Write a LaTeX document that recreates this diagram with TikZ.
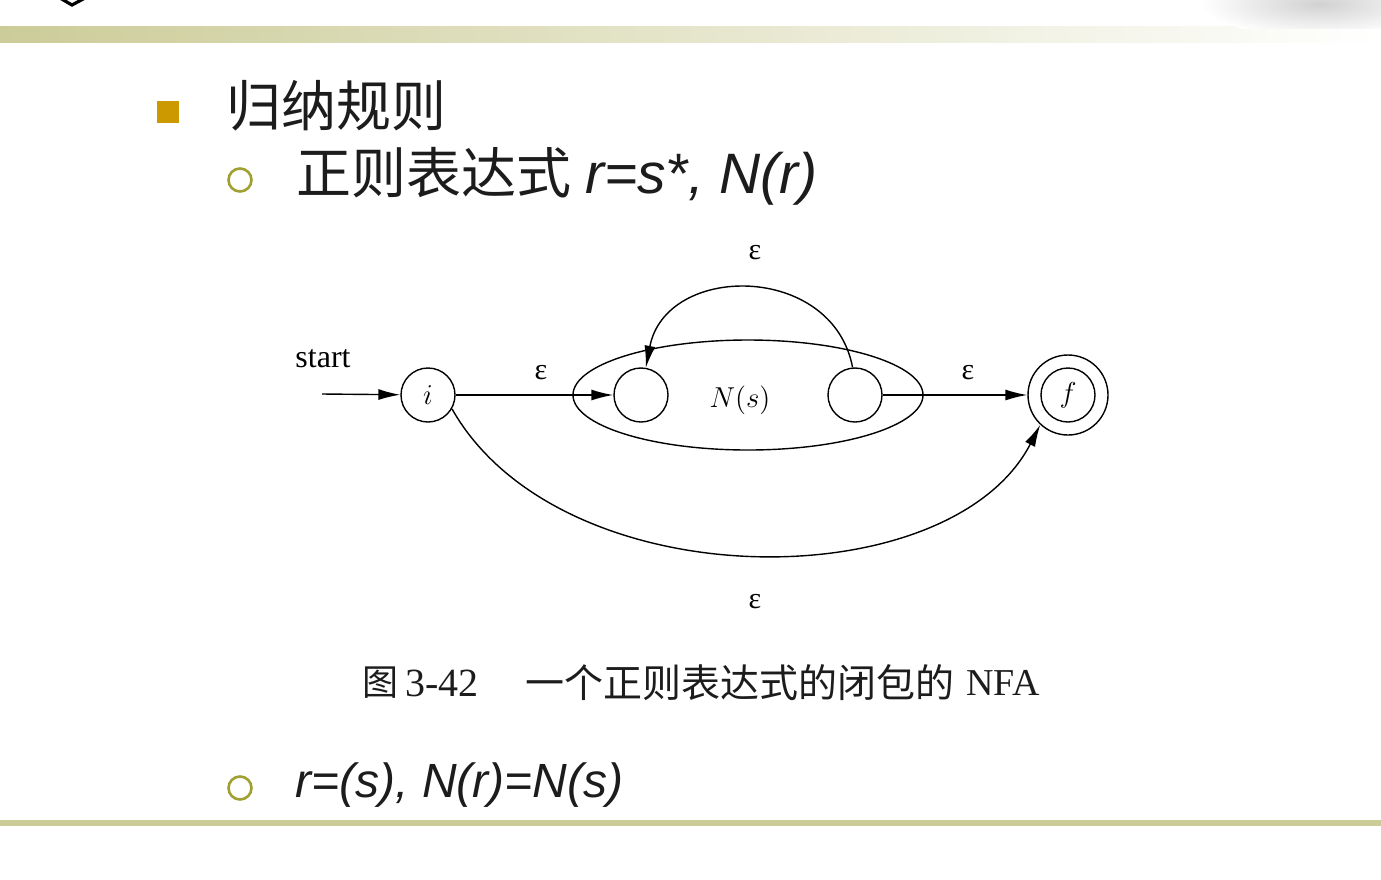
\documentclass[tikz,border=0pt]{standalone}
\usepackage{fontspec}
\setmainfont{Liberation Serif}
\newfontfamily\cjk{Noto Sans CJK SC}
\newfontfamily\arialf{Liberation Sans}
\usetikzlibrary{arrows.meta,shapes.geometric}
\definecolor{olv}{RGB}{204,204,153}
\definecolor{goldb}{RGB}{204,153,0}
\definecolor{bul}{RGB}{160,160,50}
\definecolor{ink}{RGB}{28,28,28}
\tikzset{
  st/.style={circle, draw, line width=0.7pt, minimum size=27pt, inner sep=0pt, font=\fontsize{14}{16}\selectfont},
  arr/.style={line width=0.7pt, -{Latex[length=11pt,width=5.5pt]}},
  lbl/.style={font=\fontsize{15}{17}\selectfont, inner sep=0pt},
  bulc/.style={circle, draw=bul, line width=1.3pt, minimum size=11.5pt, inner sep=0pt},
}
\begin{document}
\begin{tikzpicture}[x=0.5pt,y=-0.5pt]
\useasboundingbox (0,0) rectangle (1381,879);
% top decorations
\shade[left color=olv, right color=white] (0,26) rectangle (1381,42);
\begin{scope}
\clip (1150,0) rectangle (1381,28);
\shade[inner color=black!18, outer color=white] (1320,4) ellipse [x radius=120, y radius=32];
\end{scope}
\draw[line width=1.6pt] (60,-2) -- (72,5) -- (85,-2);
% bottom line
\fill[olv] (0,820) rectangle (1381,826);
% bullets and text
\fill[goldb] (157,101) rectangle (179,123);
\node[anchor=west, inner sep=0pt, text=ink, font=\cjk\fontsize{27.5}{30}\selectfont] (t1) at (226,106) {归纳规则};
\node[bulc] (b1) at (240,180) {};
\node[anchor=west, inner sep=0pt, text=ink, font=\fontsize{27.5}{30}\selectfont] (t2) at (296,176) {{\cjk 正则表达式} {\arialf\itshape\fontsize{28.5}{30}\selectfont r=s*, N(r)}};
\node[bulc] (b2) at (240,788) {};
\node[anchor=west, inner sep=0pt, text=ink, font=\arialf\itshape\fontsize{24}{28}\selectfont] (t3) at (295,785) {r=(s), N(r)=N(s)};
% diagram
\node[draw, ellipse, line width=0.7pt, minimum width=175pt, minimum height=55pt, inner sep=0pt] (Ns) at (748,395) {};
\node[inner sep=0pt, font=\fontsize{14}{16}\selectfont] (Nlab) at (740,400) {$N(s)$};
\node[st] (i) at (428,395) {$i$};
\node[st] (L) at (641,395) {};
\node[st] (R) at (855,395) {};
\node[circle, draw, line width=0.7pt, minimum size=40pt, inner sep=0pt] (f) at (1068,395) {};
\node[st] (fi) at (1068,395) {$f$};
\coordinate (s0) at (322,394);
\node[inner sep=0pt, font=\fontsize{16}{18}\selectfont] (start) at (323,359) {start};
\draw[arr] (s0) -- (i);
\draw[arr] (i) -- (L);
\draw[arr] (R) -- (f);
\draw[arr] (R.95) .. controls +(-20,-105) and +(20,-105) .. (L.80);
\draw[arr] (i.-30) .. controls (560,600) and (950,600) .. (f.-133);
\node[lbl] (e1) at (541,373) {ε};
\node[lbl] (e2) at (968,373) {ε};
\node[lbl] (e3) at (755,253) {ε};
\node[lbl] (e4) at (755,602) {ε};
% caption
\node[anchor=west, inner sep=0pt, text=ink, font=\cjk\fontsize{18}{20}\selectfont] (c1) at (362,683) {图};
\node[anchor=west, inner sep=0pt, text=ink, font=\fontsize{20}{22}\selectfont] (c2) at (405,683) {3-42};
\node[anchor=west, inner sep=0pt, text=ink, font=\cjk\fontsize{19.5}{21}\selectfont] (c3) at (525,683) {一个正则表达式的闭包的};
\node[anchor=west, inner sep=0pt, text=ink, font=\fontsize{19}{21}\selectfont] (c4) at (966,683) {NFA};
\end{tikzpicture}
\end{document}
